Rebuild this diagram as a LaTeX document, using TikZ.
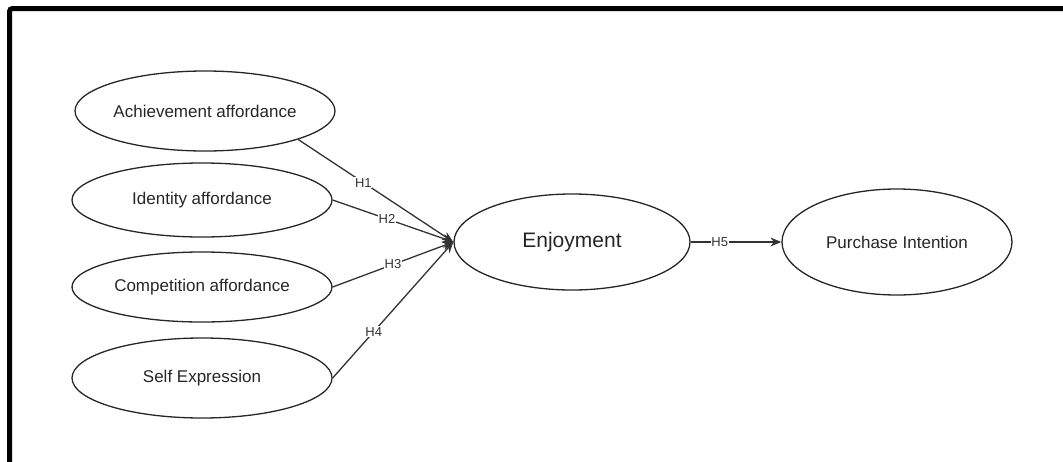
\documentclass[tikz,border=0pt]{standalone}
\usepackage{fontspec}
\setmainfont{Liberation Sans}
\usetikzlibrary{shapes.geometric,arrows.meta}
\begin{document}
\begin{tikzpicture}[x=1pt,y=-1pt,
  oval/.style={ellipse,draw=black!85,line width=1.3pt,inner sep=0pt,font=\fontsize{17}{20}\selectfont,text=black!85},
  link/.style={draw=black!80,line width=1.3pt,-{Stealth[length=11pt,width=9pt]}},
  hlab/.style={fill=white,inner sep=0.8pt,font=\fontsize{13}{15}\selectfont,text=black!80}]
\useasboundingbox (0,0) rectangle (1063,461);
\draw[line width=5pt,rounded corners=3pt] (9.5,470) -- (9.5,8.5) -- (1070,8.5);
\node[oval,minimum width=260pt,minimum height=80pt] (ach) at (205,111) {Achievement affordance};
\node[oval,minimum width=260pt,minimum height=74pt] (ide) at (202,200) {Identity affordance};
\node[oval,minimum width=260pt,minimum height=70pt] (com) at (202,287) {Competition affordance};
\node[oval,minimum width=260pt,minimum height=80pt] (sel) at (202,378) {Self Expression};
\node[oval,minimum width=236pt,minimum height=96pt,font=\fontsize{21}{24}\selectfont] (enj) at (572,242) {Enjoyment};
\node[oval,minimum width=230pt,minimum height=106pt] (pi) at (897,242) {Purchase Intention};
\draw[link] (ach.-17) -- node[hlab,pos=0.42] {H1} (enj.west);
\draw[link] (ide.east) -- node[hlab,pos=0.45] {H2} (enj.west);
\draw[link] (com.east) -- node[hlab,pos=0.5] {H3} (enj.west);
\draw[link] (sel.east) -- node[hlab,pos=0.34] {H4} (enj.west);
\draw[link] (enj.east) -- node[hlab,pos=0.32] {H5} (pi.west);
\end{tikzpicture}
\end{document}
